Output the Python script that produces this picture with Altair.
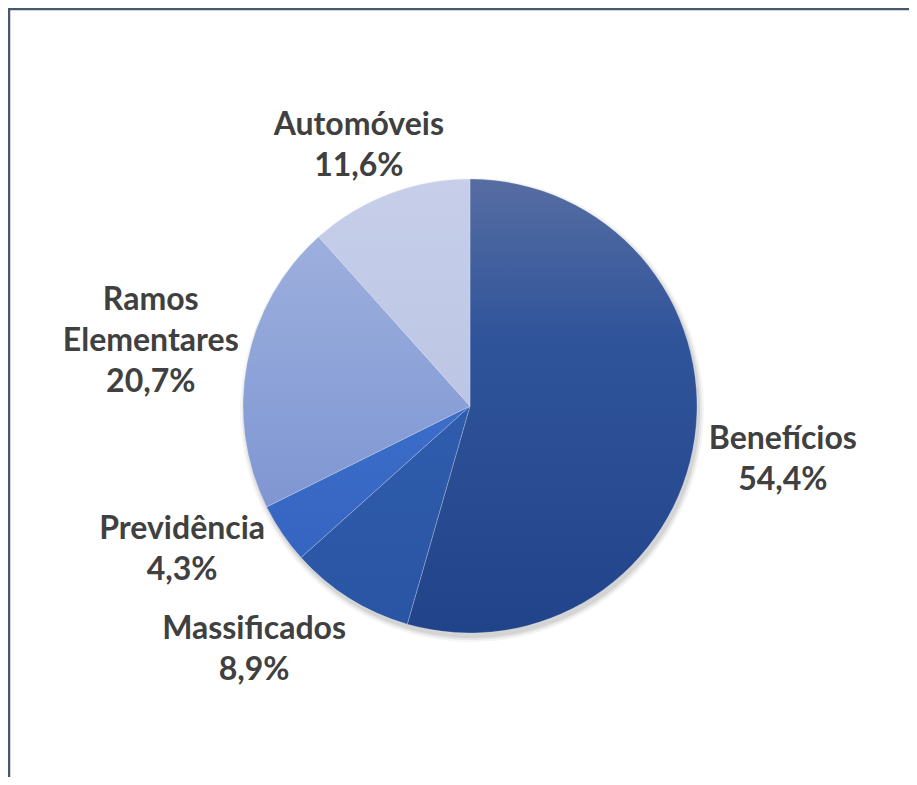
import math
import altair as alt
import pandas as pd

# ---- data ----
categories = ["Benefícios", "Massificados", "Previdência", "Ramos Elementares", "Automóveis"]
values = [54.4, 8.9, 4.3, 20.7, 11.6]
label_names = ["Benefícios", "Massificados", "Previdência", "Ramos\nElementares", "Automóveis"]

df = pd.DataFrame({"category": categories, "value": values, "name": label_names})
df["order"] = range(len(df))
df["end"] = df["value"].cumsum()
df["start"] = df["end"] - df["value"]
df["mid"] = (df["start"] + df["end"]) / 2
df["label"] = df["name"] + "\n" + df["value"].map(lambda v: f"{v:.1f}".replace(".", ",") + "%")
total = float(df["value"].sum())

# ---- styles ----
W, H = 901, 769
CX, CY = 462, 398
R = 227
LINE_H = 41
theta_scale = alt.Scale(domain=[0, total], range=[0, 2 * math.pi])

gradients = {
    "Benefícios": [("#566da2", 0.0), ("#30549a", 0.35), ("#21438a", 1.0)],
    "Massificados": [("#305cad", 0.0), ("#2a55a4", 1.0)],
    "Previdência": [("#3c6dca", 0.0), ("#3565c0", 1.0)],
    "Ramos Elementares": [("#9dafdd", 0.0), ("#8aa0d7", 0.6), ("#7f96d2", 1.0)],
    "Automóveis": [("#c6cee9", 0.0), ("#bcc6e4", 1.0)],
}
# offsets of each label block centre from its polar anchor
label_offsets = {
    "Benefícios": (-4, 9),
    "Massificados": (-46, -28),
    "Previdência": (-23, -36),
    "Ramos Elementares": (-5, -4),
    "Automóveis": (3, 38),
}
LABEL_R = 320

base = alt.Chart(df)

layers = []

# soft shadow
for k, op in [(5, 0.04), (3, 0.06), (1, 0.08)]:
    layers.append(
        base.mark_arc(radius=R + k, fill="black", opacity=op, stroke=None).encode(
            theta=alt.Theta("start:Q", scale=theta_scale),
            theta2="end:Q",
            x=alt.value(CX + 2),
            y=alt.value(CY + 4),
        )
    )

# slices
for cat in categories:
    stops = [alt.GradientStop(color=c, offset=o) for c, o in gradients[cat]]
    grad = alt.LinearGradient(gradient="linear", stops=stops, x1=0, x2=0, y1=0, y2=1)
    layers.append(
        base.transform_filter(alt.datum.category == cat)
        .mark_arc(radius=R, fill=grad, stroke="#ffffff", strokeWidth=0.6, strokeOpacity=0.4)
        .encode(
            theta=alt.Theta("start:Q", scale=theta_scale),
            theta2="end:Q",
            x=alt.value(CX),
            y=alt.value(CY),
        )
    )

# labels
for cat, lab in zip(categories, df["label"]):
    dx, dy = label_offsets[cat]
    nlines = lab.count("\n") + 1
    layers.append(
        base.transform_filter(alt.datum.category == cat)
        .mark_text(
            radius=LABEL_R,
            font="Lato",
            fontWeight="bold",
            fontSize=32,
            color="#404040",
            lineBreak="\n",
            lineHeight=LINE_H,
            align="center",
            baseline="middle",
            dx=dx,
            dy=dy - (nlines - 1) * LINE_H / 2,
        )
        .encode(
            theta=alt.Theta("mid:Q", scale=theta_scale),
            text="label:N",
            x=alt.value(CX),
            y=alt.value(CY),
        )
    )

# frame (top and left borders)
frame_top = base.transform_filter(alt.datum.order == 0).mark_rule(color="#48596f", strokeWidth=2.5).encode(
    x=alt.value(0), x2=alt.value(W + 10), y=alt.value(1)
)
frame_left = base.transform_filter(alt.datum.order == 0).mark_rule(color="#48596f", strokeWidth=2.5).encode(
    x=alt.value(1), y=alt.value(0), y2=alt.value(H)
)
layers += [frame_top, frame_left]

chart = (
    alt.layer(*layers)
    .properties(width=W, height=H, autosize=alt.AutoSizeParams(type="none"), padding=0)
    .configure_view(stroke=None)
    .configure(background="white")
)

chart.save("out.html", embed_options={"renderer": "svg", "actions": False})
